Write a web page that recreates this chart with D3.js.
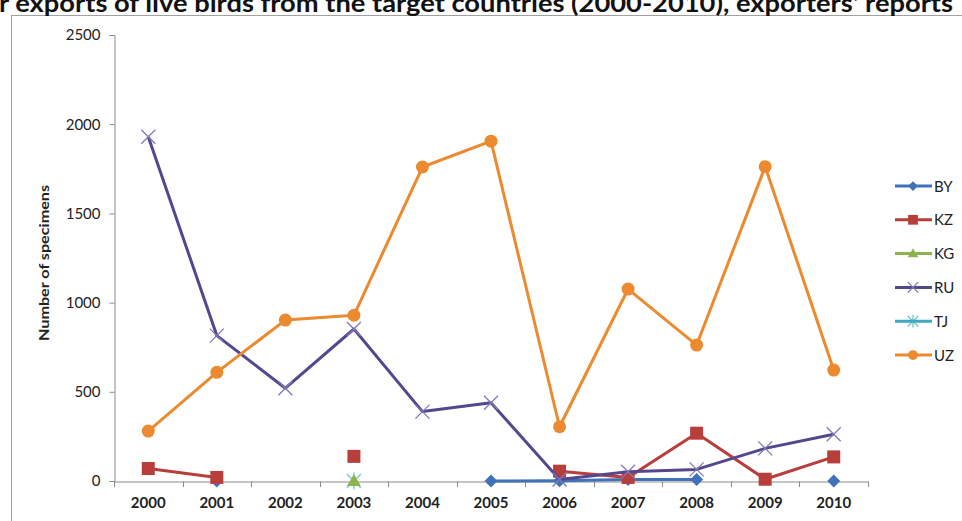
<!DOCTYPE html>
<html><head><meta charset="utf-8">
<script src="https://cdn.jsdelivr.net/npm/d3@7"></script>
<style>body{margin:0;background:#fff;overflow:hidden}svg{display:block}</style>
</head><body><svg id="c" width="962" height="521"></svg>
<script>
const years = [2000,2001,2002,2003,2004,2005,2006,2007,2008,2009,2010];
const BY = [null,0,null,null,null,0,2,8,8,null,0];
const KZ = [70,20,null,138,null,null,55,20,268,10,135];
const KG = [null,null,null,0,null,null,null,null,null,null,null];
const RU = [1930,815,520,852,389,439,8,52,65,183,262];
const TJ = [null,null,null,0,null,null,null,null,null,null,null];
const UZ = [280,609,902,929,1760,1905,304,1076,762,1762,622];
const seriesNames = ["BY","KZ","KG","RU","TJ","UZ"];
const yTicks = [0,500,1000,1500,2000,2500];
const titleText = "r exports of live birds from the target countries (2000-2010), exporters' reports";
const yLabel = "Number of specimens";

const seriesData = {BY, KZ, KG, RU, TJ, UZ};
const colors = {BY:"#3f72b8", KZ:"#b83e3c", KG:"#8db34f", RU:"#53488e", TJ:"#3fa9c2", UZ:"#ec8a2f"};
const markers = {BY:"diamond", KZ:"square", KG:"triangle", RU:"x", TJ:"star", UZ:"circle"};
const drawOrder = ["BY","KZ","TJ","KG","RU","UZ"];

const svg = d3.select("#c");
const FONT = "Lato, 'Open Sans', sans-serif";

// frame
svg.append("rect").attr("x",11.5).attr("y",15.5).attr("width",1000).attr("height",600)
  .attr("fill","none").attr("stroke","#a0a0a0").attr("stroke-width",1);

// title (cropped at top, as in the reference)
svg.append("text").attr("x",-1).attr("y",12).attr("font-family",FONT).attr("font-weight",700)
  .attr("font-size",24).attr("fill","#111").attr("textLength",954).attr("lengthAdjust","spacingAndGlyphs")
  .text(titleText);

const x = d3.scaleBand().domain(years).range([114,868]).padding(0);
const y = d3.scaleLinear().domain([0,2500]).range([481,35]);

// y axis
const ya = svg.append("g").attr("transform","translate(114.5,0)")
  .call(d3.axisLeft(y).tickValues(yTicks).tickSize(5).tickPadding(9).tickFormat(d3.format("d")));
ya.select(".domain").attr("stroke","#8a8a8a");
ya.selectAll(".tick line").attr("stroke","#8a8a8a");
ya.selectAll("text").attr("font-family",FONT).attr("font-size",15).attr("fill","#222");

// x axis labels
const xa = svg.append("g").attr("transform","translate(0,481.5)")
  .call(d3.axisBottom(x).tickSize(0).tickPadding(16));
xa.select(".domain").attr("stroke","#8a8a8a");
xa.selectAll("text").attr("font-family",FONT).attr("font-size",15).attr("font-weight",700).attr("fill","#222");
// boundary ticks
const bounds = years.map(d=>x(d)).concat([x(years[years.length-1])+x.bandwidth()]);
svg.append("g").selectAll("line").data(bounds).join("line")
  .attr("x1",d=>Math.round(d)+0.5).attr("x2",d=>Math.round(d)+0.5)
  .attr("y1",481.5).attr("y2",487).attr("stroke","#8a8a8a");

// y label
svg.append("text").attr("transform","translate(49,263) rotate(-90)")
  .attr("text-anchor","middle").attr("font-family",FONT).attr("font-size",14).attr("font-weight",700)
  .attr("fill","#222").attr("textLength",156).attr("lengthAdjust","spacingAndGlyphs").text(yLabel);

function drawMarker(g, type, cx, cy, color, scale=1){
  const s = scale;
  if(type==="diamond"){
    g.append("path").attr("d",`M${cx},${cy-6.5*s}L${cx+6.5*s},${cy}L${cx},${cy+6.5*s}L${cx-6.5*s},${cy}Z`).attr("fill",color);
  } else if(type==="square"){
    g.append("rect").attr("x",cx-6.5*s).attr("y",cy-6.5*s).attr("width",13*s).attr("height",13*s).attr("fill",color);
  } else if(type==="triangle"){
    g.append("path").attr("d",`M${cx},${cy-7*s}L${cx+7*s},${cy+5*s}L${cx-7*s},${cy+5*s}Z`).attr("fill",color);
  } else if(type==="circle"){
    g.append("circle").attr("cx",cx).attr("cy",cy).attr("r",6.5*s).attr("fill",color);
  } else if(type==="x"){
    const r=7*s;
    g.append("path").attr("d",`M${cx-r},${cy-r}L${cx+r},${cy+r}M${cx-r},${cy+r}L${cx+r},${cy-r}`)
      .attr("stroke","#8478b3").attr("stroke-width",1.3).attr("fill","none");
  } else if(type==="star"){
    const r=7*s;
    g.append("path").attr("d",`M${cx-r},${cy-r}L${cx+r},${cy+r}M${cx-r},${cy+r}L${cx+r},${cy-r}M${cx},${cy-r*1.2}L${cx},${cy+r*1.2}`)
      .attr("stroke",color).attr("stroke-width",1.3).attr("fill","none").attr("opacity",0.7);
  }
}

const cxOf = d => x(d) + x.bandwidth()/2;
const line = d3.line().defined(d=>d.v!=null).x(d=>cxOf(d.year)).y(d=>y(d.v));

drawOrder.forEach(name=>{
  const pts = years.map((yr,i)=>({year:yr, v:seriesData[name][i]}));
  const g = svg.append("g");
  g.append("path").datum(pts).attr("d",line).attr("fill","none")
    .attr("stroke",colors[name]).attr("stroke-width",3).attr("stroke-linejoin","round");
  pts.filter(p=>p.v!=null).forEach(p=>drawMarker(g, markers[name], cxOf(p.year), y(p.v), colors[name]));
});

// legend
const leg = svg.append("g");
seriesNames.forEach((name,i)=>{
  const ly = 186 + i*33.8;
  leg.append("line").attr("x1",895).attr("x2",932).attr("y1",ly).attr("y2",ly)
    .attr("stroke",colors[name]).attr("stroke-width",3);
  drawMarker(leg, markers[name], 913, ly, colors[name], 0.75);
  leg.append("text").attr("x",934).attr("y",ly+5.5).attr("font-family",FONT).attr("font-size",15)
    .attr("fill","#222").text(name);
});
</script></body></html>
